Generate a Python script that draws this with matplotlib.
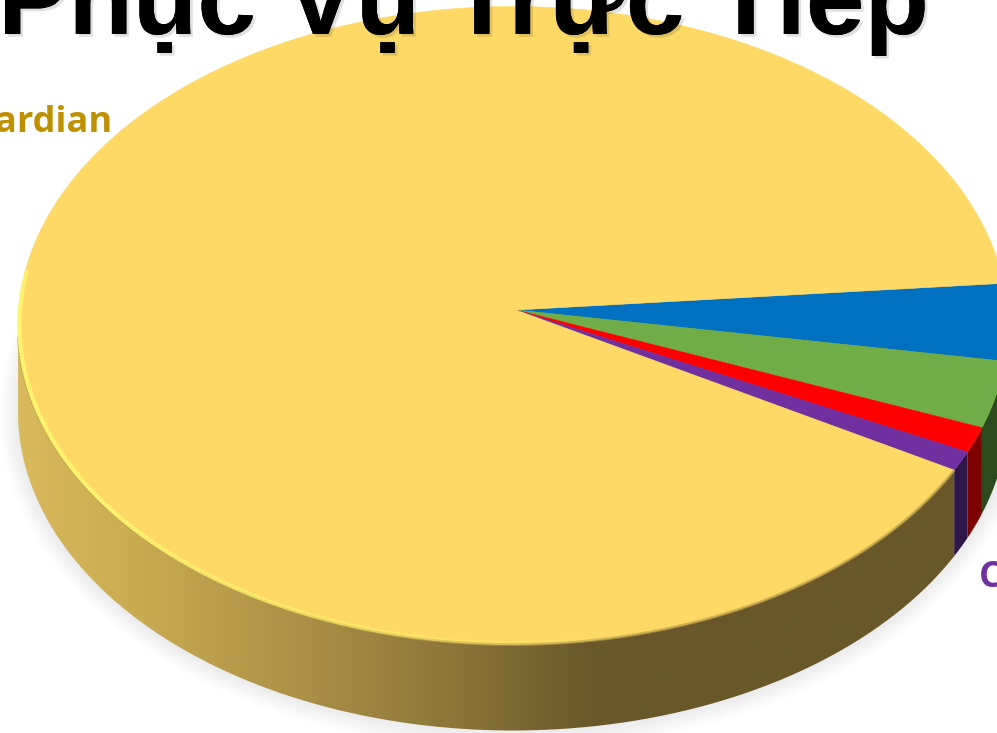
import numpy as np
import matplotlib
matplotlib.use("Agg")
import matplotlib.pyplot as plt
import matplotlib.patheffects as pe
from matplotlib.collections import LineCollection
from matplotlib.colors import LinearSegmentedColormap, to_rgba
from matplotlib.patches import Ellipse, PathPatch
from matplotlib.path import Path

# shares in percent, clockwise starting from the blue slice
shares = [3.9, 3.4, 1.3, 1.0, 90.4]
top_colors = ["#0070C0", "#70AD47", "#FF0000", "#7030A0", "#FFD966"]
side_colors = ["#003860", "#2B4A1E", "#7F0000", "#2E1648", None]
title = "Phục Vụ Trực Tiếp"
label_left = "Guardian"
label_right = "C"

# pie geometry in pixels
W, H = 997, 733
CX, CY, RX, RY = 513, 325.5, 495, 319
APEX = (516, 310)
DEPTH = 86
START = 7.6


def rim(t_deg, dy=0.0):
    t = np.radians(t_deg)
    return CX + RX * np.cos(t), CY - RY * np.sin(t) + dy


def arc(t0, t1):
    n = max(int(abs(t1 - t0) * 2), 2)
    return np.linspace(t0, t1, n)


def wall_path(t0, t1):
    ts = arc(t0, t1)
    x0, y0 = rim(ts)
    x1, y1 = rim(ts[::-1], DEPTH)
    return np.concatenate([x0, x1]), np.concatenate([y0, y1])


def rim_segments(ts, inset=0.0):
    x, y = rim(ts)
    x = x + inset * (CX - x) / RX
    y = y + inset * (CY - y) / RY
    pts = np.column_stack([x, y]).reshape(-1, 1, 2)
    return np.concatenate([pts[:-1], pts[1:]], axis=1)


fig = plt.figure(figsize=(W / 100, H / 100), dpi=100)
ax = fig.add_axes([0, 0, 1, 1])
ax.set_xlim(0, W)
ax.set_ylim(H, 0)
ax.axis("off")

# soft shadow under the disc
for k in range(1, 20):
    ax.add_patch(Ellipse((CX, CY + DEPTH + 1), 2 * RX + 2 * k, 2 * RY + 2 * k,
                         fc="black", ec="none", alpha=0.005, zorder=1))

edges = START - np.cumsum([0] + shares) * 3.6

# side wall of the big slice: horizontal shading clipped to the wall outline
wall_cmap = LinearSegmentedColormap.from_list("wall", [
    (0.0, "#D8B95C"), (0.12, "#C9AB52"), (0.3, "#A98F45"),
    (0.45, "#8A7538"), (0.59, "#69572A"), (1.0, "#69572A")])
wx, wy = wall_path(edges[4], -180)
grad = np.linspace(0, 1, 512).reshape(1, -1)
im = ax.imshow(grad, cmap=wall_cmap, extent=(18, 997, H, 0), aspect="auto", zorder=2)
im.set_clip_path(PathPatch(Path(np.column_stack([wx, wy])), transform=ax.transData))
ax.set_xlim(0, W)
ax.set_ylim(H, 0)

# remaining slice walls
for i in range(4):
    sx, sy = wall_path(min(edges[i], 0), edges[i + 1])
    ax.fill(sx, sy, color=side_colors[i], lw=0, zorder=3)

# top faces, fanned out from the apex
for i, c in enumerate(top_colors):
    tx, ty = rim(arc(edges[i], edges[i + 1]))
    ax.fill(np.r_[APEX[0], tx], np.r_[APEX[1], ty], color=c, lw=0.4, ec=c, zorder=4)

# bevel along the front rim: dim edge on the dark side, bright on the lit side
ts = arc(edges[4], -178)
ax.add_collection(LineCollection(rim_segments(ts), colors="#B8A04A",
                                 alpha=0.7, linewidths=2.0, zorder=5))
ts = arc(170, 285)
fade = np.clip((285 - ts[:-1]) / 70, 0, 1) * np.clip((ts[:-1] - 150) / 25, 0, 1)
rgba = [to_rgba("#FFF56E", f) for f in fade]
ax.add_collection(LineCollection(rim_segments(ts, 1.5), colors=rgba, linewidths=3.0, zorder=6))

ax.text(-2, 34, title, family="Liberation Sans", weight="bold", fontsize=76,
        color="black", ha="left", va="baseline", zorder=8,
        path_effects=[pe.withSimplePatchShadow(offset=(2, -2), alpha=0.12),
                      pe.Normal()])
ax.text(113, 132, label_left, family="Open Sans", weight="bold", fontsize=26,
        color="#BF9000", ha="right", va="baseline", zorder=8)
ax.text(979, 587, label_right, family="Open Sans", weight="bold", fontsize=26,
        color="#7030A0", ha="left", va="baseline", zorder=8)

fig.savefig("out.png", dpi=100, facecolor="white")
